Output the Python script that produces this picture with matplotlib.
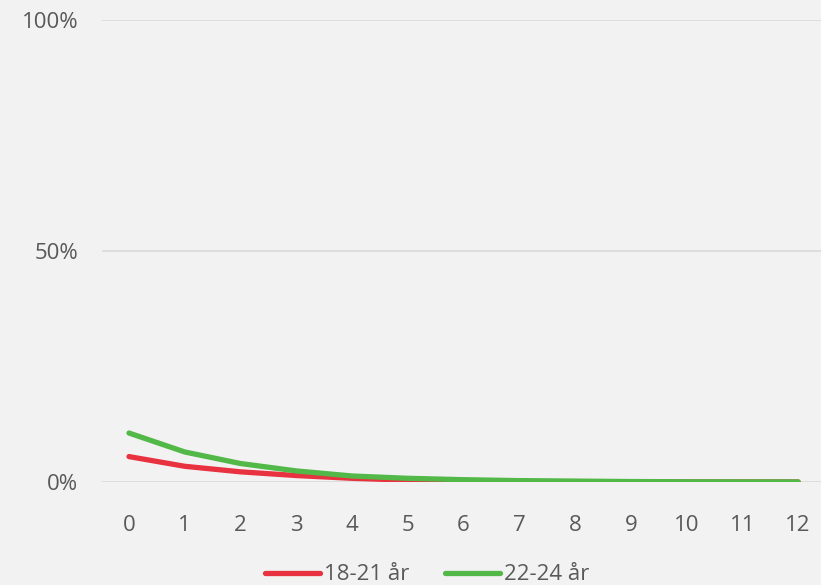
import numpy as np
import matplotlib.pyplot as plt
from matplotlib.ticker import FuncFormatter

plt.rcParams['font.family'] = ['Open Sans', 'DejaVu Sans']

months = list(range(13))
age_18_21 = [5.5, 3.4, 2.2, 1.4, 0.8, 0.4, 0.2, 0.1, 0.05, 0.03, 0.02, 0.01, 0.01]
age_22_24 = [10.6, 6.5, 4.0, 2.4, 1.3, 0.8, 0.5, 0.3, 0.2, 0.1, 0.05, 0.03, 0.02]

bg = '#f2f2f2'
txt = '#595959'

fig = plt.figure(figsize=(8.21, 5.85), dpi=100, facecolor=bg)
W, H = 821, 585
ax = fig.add_axes([102 / W, 1 - 482 / H, (821 - 102) / W, (482 - 20) / H])
ax.set_facecolor(bg)

ax.plot(months, age_18_21, color='#e8323f', lw=3.8, solid_capstyle='round', label='18-21 år', zorder=3)
ax.plot(months, age_22_24, color='#52b848', lw=3.8, solid_capstyle='round', label='22-24 år', zorder=4)

ax.set_xlim(-0.484, 12.41)
ax.set_ylim(0, 100)
ax.set_yticks([0, 50, 100])
ax.yaxis.set_major_formatter(FuncFormatter(lambda v, p: f'{v:.0f}%'))
ax.set_xticks(months)
ax.grid(axis='y', color='#d9d9d9', lw=1.2)
ax.set_axisbelow(True)
for s in ax.spines.values():
    s.set_visible(False)
ax.tick_params(length=0, labelsize=16, colors=txt)
ax.tick_params(axis='x', pad=24)
ax.tick_params(axis='y', pad=17)

leg = fig.legend(loc='lower center', bbox_to_anchor=(0.52, -0.035), ncol=2, frameon=False,
                 fontsize=16, handlelength=2.5, handletextpad=0.15, columnspacing=1.6)
for t in leg.get_texts():
    t.set_color(txt)

fig.savefig('out.png', dpi=100, facecolor=bg)
